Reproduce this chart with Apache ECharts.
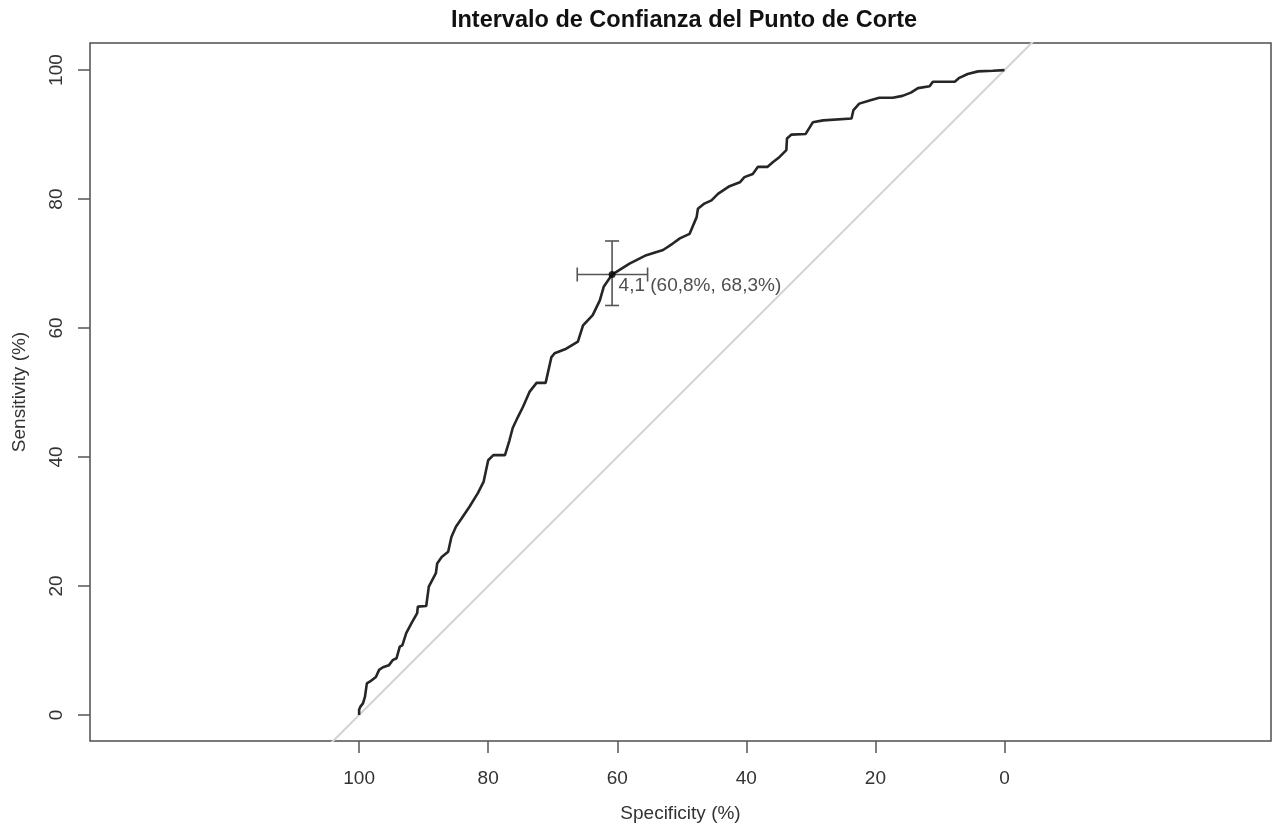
<!DOCTYPE html>
<html>
<head>
<meta charset="utf-8">
<title>Intervalo de Confianza del Punto de Corte</title>
<script src="https://cdn.jsdelivr.net/npm/echarts@6.0.0/dist/echarts.min.js"></script>
<style>
html, body { margin: 0; padding: 0; background: #fff; }
#chart { width: 1272px; height: 823px; }
</style>
</head>
<body>
<div id="chart"></div>
<script>
// curva ROC (en %)
var specificity = [100, 100, 99.8, 99.4, 99.1, 98.8, 98.3, 97.4, 96.9, 96.3, 95.4, 94.8, 94.2, 93.7, 93.3, 92.7, 91.9, 91.0, 90.9, 89.6,
  89.2, 88.1, 87.9, 87.2, 86.2, 85.7, 85.0, 84.1, 82.9, 81.6, 80.7, 80.0, 79.2, 77.4, 76.7, 76.2, 75.4, 74.6, 73.6, 72.5,
  71.1, 70.2, 69.7, 67.9, 66.1, 65.3, 63.8, 62.7, 62.1, 60.8, 58.1, 55.5, 52.9, 51.4, 50.3, 48.8, 47.7, 47.5, 46.5, 45.4,
  44.4, 42.6, 41.0, 40.3, 39.0, 38.2, 36.7, 35.9, 35.0, 33.8, 33.7, 33.0, 30.8, 29.7, 28.1, 23.7, 23.4, 22.5, 20.9, 19.4,
  17.3, 15.8, 14.5, 13.4, 11.6, 11.1, 7.7, 7.0, 5.7, 4.1, 1.8, 0];
var sensitivity = [0, 0.8, 1.3, 1.8, 2.8, 4.9, 5.2, 5.9, 7.0, 7.4, 7.7, 8.5, 8.8, 10.6, 10.8, 12.7, 14.2, 15.8, 16.8, 16.9,
  19.9, 22.0, 23.5, 24.5, 25.3, 27.6, 29.2, 30.5, 32.3, 34.4, 36.2, 39.5, 40.3, 40.3, 42.6, 44.5, 46.2, 47.8, 50.1, 51.5,
  51.5, 55.5, 56.1, 56.8, 57.9, 60.4, 62.0, 64.3, 66.4, 68.3, 70.0, 71.3, 72.1, 73.1, 73.9, 74.6, 77.2, 78.5, 79.3, 79.8,
  80.8, 82.0, 82.6, 83.4, 83.9, 85.0, 85.0, 85.7, 86.4, 87.6, 89.4, 90.0, 90.1, 91.9, 92.2, 92.5, 93.8, 94.8, 95.3, 95.7,
  95.7, 96.0, 96.5, 97.2, 97.5, 98.2, 98.2, 98.8, 99.4, 99.8, 99.9, 100];

// punto de corte y sus intervalos de confianza
var cutoffLabel = '4,1 (60,8%, 68,3%)';
var cutoffSpec = 60.8;
var cutoffSens = 68.3;
var specCI = [66.2, 55.3];
var sensCI = [63.5, 73.5];

// diagonal de referencia (sens = 100 - spec)
var chanceSpec = [110, -10];
var chanceSens = [-10, 110];

var tickValues = [0, 20, 40, 60, 80, 100];

var rocData = specificity.map(function (s, i) { return [s, sensitivity[i]]; });
var chanceData = chanceSpec.map(function (s, i) { return [s, chanceSens[i]]; });

var chart = echarts.init(document.getElementById('chart'));

var axisFont = { fontFamily: 'Liberation Sans', fontSize: 19, color: '#333' };
var tickStyle = { color: '#555', width: 1.5 };

function renderCI(params, api) {
    var c = api.coord([api.value(0), api.value(1)]);
    var l = api.coord([api.value(2), api.value(1)]);
    var r = api.coord([api.value(3), api.value(1)]);
    var b = api.coord([api.value(0), api.value(4)]);
    var t = api.coord([api.value(0), api.value(5)]);
    var cap = 7;
    var st = { stroke: '#555', lineWidth: 1.6 };
    return {
        type: 'group',
        children: [
            { type: 'line', shape: { x1: l[0], y1: c[1], x2: r[0], y2: c[1] }, style: st },
            { type: 'line', shape: { x1: l[0], y1: c[1] - cap, x2: l[0], y2: c[1] + cap }, style: st },
            { type: 'line', shape: { x1: r[0], y1: c[1] - cap, x2: r[0], y2: c[1] + cap }, style: st },
            { type: 'line', shape: { x1: c[0], y1: b[1], x2: c[0], y2: t[1] }, style: st },
            { type: 'line', shape: { x1: c[0] - cap, y1: b[1], x2: c[0] + cap, y2: b[1] }, style: st },
            { type: 'line', shape: { x1: c[0] - cap, y1: t[1], x2: c[0] + cap, y2: t[1] }, style: st }
        ]
    };
}

var option = {
    animation: false,
    backgroundColor: '#fff',
    title: {
        text: 'Intervalo de Confianza del Punto de Corte',
        left: 684,
        top: 9,
        padding: 0,
        textAlign: 'center',
        textStyle: { fontFamily: 'Liberation Sans', fontSize: 23.5, fontWeight: 'bold', color: '#111' }
    },
    grid: {
        left: 90,
        right: 1,
        top: 43,
        bottom: 82,
        outerBoundsMode: 'none',
        containLabel: false,
        show: true,
        borderColor: '#4d4d4d',
        borderWidth: 1.5,
        backgroundColor: 'transparent'
    },
    xAxis: {
        type: 'value',
        inverse: true,
        min: -41.3,
        max: 141.7,
        name: 'Specificity (%)',
        nameLocation: 'middle',
        nameGap: 63,
        nameTextStyle: axisFont,
        axisLine: { show: false, onZero: false },
        splitLine: { show: false },
        axisTick: { show: true, length: 12, customValues: tickValues, lineStyle: tickStyle },
        axisLabel: Object.assign({ customValues: tickValues, margin: 28 }, axisFont)
    },
    yAxis: {
        type: 'value',
        min: -4.03,
        max: 104.2,
        name: 'Sensitivity (%)',
        nameLocation: 'middle',
        nameGap: 61,
        nameTextStyle: axisFont,
        axisLine: { show: false, onZero: false },
        splitLine: { show: false },
        axisTick: { show: true, length: 12, customValues: tickValues, lineStyle: tickStyle },
        axisLabel: Object.assign({ customValues: tickValues, margin: 24, rotate: 90 }, axisFont)
    },
    series: [
        {
            name: 'chance',
            type: 'line',
            data: chanceData,
            showSymbol: false,
            silent: true,
            lineStyle: { color: '#d3d3d3', width: 2 },
            z: 1
        },
        {
            name: 'ROC',
            type: 'line',
            data: rocData,
            showSymbol: false,
            lineStyle: { color: '#262626', width: 2.6 },
            z: 2
        },
        {
            name: 'IC',
            type: 'custom',
            renderItem: renderCI,
            data: [[cutoffSpec, cutoffSens, specCI[0], specCI[1], sensCI[0], sensCI[1]]],
            z: 3
        },
        {
            name: 'corte',
            type: 'scatter',
            data: [[cutoffSpec, cutoffSens]],
            symbolSize: 7,
            itemStyle: { color: '#000' },
            label: {
                show: true,
                formatter: cutoffLabel,
                position: [10, 5],
                align: 'left',
                verticalAlign: 'top',
                fontFamily: 'Liberation Sans',
                fontSize: 19,
                color: '#222'
            },
            z: 4
        }
    ]
};

chart.setOption(option);
</script>
</body>
</html>
